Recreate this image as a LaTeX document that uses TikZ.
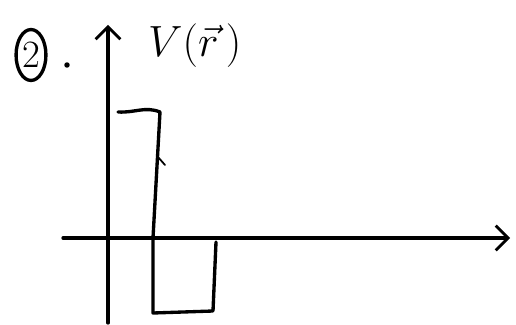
\documentclass[tikz,border=0pt]{standalone}
\usetikzlibrary{shapes.geometric,arrows.meta}
\begin{document}
\begin{tikzpicture}[x=0.02cm, y=-0.02cm,
    pen/.style={line width=1.9pt, line cap=round, line join=round},
    axis/.style={pen, -{Straight Barb[length=7pt, width=14pt, line width=1.6pt]}},
    num/.style={draw, ellipse, pen, inner sep=0pt, minimum width=17pt, minimum height=29pt, font=\fontsize{22}{24}\selectfont}
]
    \path[use as bounding box] (0,0) rectangle (516,324);

    % Axes
    \coordinate (ybot) at (108,323);
    \coordinate (ytop) at (108,25);
    \coordinate (xl) at (63,238);
    \coordinate (xr) at (510,238);
    \draw[axis] (ybot) -- (ytop);
    \draw[axis] (xl) -- (xr);

    % Labels
    \node[num] (item) at (31,55) {2};
    \node[circle, fill, inner sep=1.1pt] (dot) at (67,65) {};
    \node[anchor=west, font=\fontsize{32}{34}\selectfont] (vlab) at (142,46) {$V(\vec{r}\,)$};

    % Potential
    \coordinate (p1) at (118,112);
    \coordinate (p2) at (160,112);
    \coordinate (p3) at (153,238);
    \coordinate (p4) at (153,313);
    \coordinate (p5) at (213,311);
    \coordinate (p6) at (216,242);
    \draw[pen] (p1) .. controls (135,113) and (145,106) .. (p2)
        -- (p3) -- (p4) -- (p5) -- (p6);
    \draw[pen, line width=1pt] (158,157) -- (165,165);
\end{tikzpicture}
\end{document}
